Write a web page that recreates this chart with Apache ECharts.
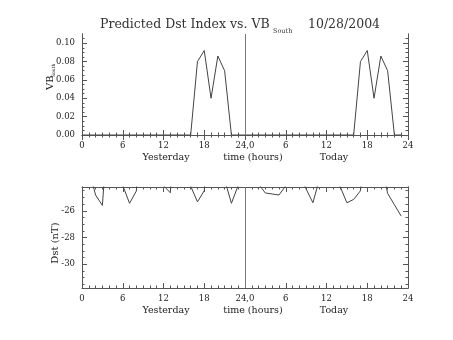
<!DOCTYPE html>
<html><head><meta charset="utf-8">
<script src="https://cdn.jsdelivr.net/npm/echarts@6/dist/echarts.min.js"></script>
<style>html,body{margin:0;padding:0;background:#fff}#c{width:453px;height:340px}</style>
</head><body><div id="c"></div>
<script>
// hours 0..23 = yesterday, 24..47 = today
const hours = [0,1,2,3,4,5,6,7,8,9,10,11,12,13,14,15,16,17,18,19,20,21,22,23,
  24,25,26,27,28,29,30,31,32,33,34,35,36,37,38,39,40,41,42,43,44,45,46,47];
const vbSouth = [0,0,0,0,0,0,0,0,0,0,0,0,0,0,0,0,0,0.080,0.092,0.040,0.086,0.070,0,0,
  0,0,0,0,0,0,0,0,0,0,0,0,0,0,0,0,0,0.080,0.092,0.040,0.086,0.070,0,0];
const dst = [-22,-22.9,-24.82,-25.6,-18.6,-20,-24.1,-25.44,-24.52,-18,-20,-22,-24.12,-24.65,-18,-20,
  -24.15,-25.33,-24.5,-18,-21,-23.67,-25.44,-24.1,
  -22,-22,-24.0,-24.67,-24.74,-24.82,-24.13,-22,-23.3,-24.37,-25.4,-23.55,-22,-22,-24.18,-25.4,
  -25.15,-24.5,-19,-21,-22.2,-24.7,-25.55,-26.4];
const vbTicks = [0,0.02,0.04,0.06,0.08,0.10];
const vbMinor = [0.005,0.01,0.015,0.025,0.03,0.035,0.045,0.05,0.055,0.065,0.07,0.075,0.085,0.09,0.095,0.105];
const dstTicks = [-30,-28,-26];
const dstMinor = [-31.5,-31,-30.5,-29.5,-29,-28.5,-27.5,-27,-26.5,-25.5,-25,-24.5];
const xLabels = {0:'0',6:'6',12:'12',18:'18',24:'24,0',30:'6',36:'12',42:'18',48:'24'};
const title = 'Predicted Dst Index vs. VB';
const titleSub = 'South';
const dateText = '10/28/2004';
const xSubLabels = ['Yesterday','time (hours)','Today'];

const vbYMin = 0, vbYMax = 0.11, dstYMin = -31.78, dstYMax = -24.22;
const FONT = 'DejaVu Serif';
const AX = '#555';
const LINE = '#444';
const TXT = '#222';

function xAxes(g){
  const base = {gridIndex:g, type:'value', min:0, max:48, interval:6,
    axisLine:{show:true, lineStyle:{color:AX, width:1}},
    axisTick:{show:true, inside:true, length:5, lineStyle:{color:AX}},
    minorTick:{show:true, splitNumber:6, length:2.5, lineStyle:{color:AX}},
    splitLine:{show:false}, minorSplitLine:{show:false}};
  return [
    Object.assign({}, base, {position:'bottom',
      axisLabel:{show:true, margin:6, color:TXT, fontFamily:FONT, fontSize:8.5,
        formatter: v => (xLabels[v] !== undefined ? xLabels[v] : '')}}),
    Object.assign({}, base, {position:'top', axisLabel:{show:false}})
  ];
}
function yAxes(g, mn, mx, majors, minors, fmt){
  const base = {gridIndex:g, type:'value', min:mn, max:mx, splitLine:{show:false},
    axisLine:{show:true, lineStyle:{color:AX}}};
  const out = [];
  ['left','right'].forEach(pos => {
    out.push(Object.assign({}, base, {position:pos,
      axisTick:{show:true, inside:true, length:5, customValues:majors, lineStyle:{color:AX}},
      axisLabel:{show:pos==='left', customValues:majors, margin:7, color:TXT, fontFamily:FONT, fontSize:8.5, formatter:fmt}}));
    out.push(Object.assign({}, base, {position:pos,
      axisTick:{show:true, inside:true, length:2.5, customValues:minors, lineStyle:{color:AX}},
      axisLabel:{show:false, customValues:minors}}));
  });
  return out;
}

const chart = echarts.init(document.getElementById('c'), null, {renderer:'canvas'});
const xs = xAxes(0).concat(xAxes(1));
const ys = yAxes(0, vbYMin, vbYMax, vbTicks, vbMinor, v => v.toFixed(2))
  .concat(yAxes(1, dstYMin, dstYMax, dstTicks, dstMinor, v => v.toFixed(0)));

function mkLine(){
  return {silent:true, symbol:'none', label:{show:false},
    lineStyle:{color:'#777', type:'solid', width:1}, data:[{xAxis:24}]};
}
function subLabel(x, y, t){
  return {type:'text', x:x, y:y, style:{text:t, fontFamily:FONT, fontSize:9.5, fill:TXT, align:'center', verticalAlign:'middle'}};
}

chart.setOption({
  animation:false,
  backgroundColor:'#fff',
  grid:[{left:82, top:34, width:326, height:101},{left:82, top:187, width:326, height:101}],
  xAxis: xs,
  yAxis: ys,
  series:[
    {type:'line', xAxisIndex:0, yAxisIndex:0, data:hours.map((h,i)=>[h,vbSouth[i]]),
      showSymbol:false, clip:true, lineStyle:{color:LINE, width:1}, markLine:mkLine()},
    {type:'line', xAxisIndex:2, yAxisIndex:4, data:hours.map((h,i)=>[h,dst[i]]),
      showSymbol:false, clip:true, lineStyle:{color:LINE, width:1}, markLine:mkLine()}
  ],
  graphic:[
    {type:'text', x:100, y:24.5, style:{text:title, fontFamily:FONT, fontSize:12.5, fill:'#333', align:'left', verticalAlign:'middle'}},
    {type:'text', x:273, y:31.5, style:{text:titleSub, fontFamily:FONT, fontSize:6.5, fill:'#333', align:'left', verticalAlign:'middle'}},
    {type:'text', x:308, y:24.5, style:{text:dateText, fontFamily:FONT, fontSize:12.5, fill:'#333', align:'left', verticalAlign:'middle'}},
    {type:'group', x:50.5, y:90, rotation:Math.PI/2, children:[
      {type:'text', x:0, y:0, style:{text:'VB', fontFamily:FONT, fontSize:10, fill:TXT, align:'left', verticalAlign:'middle'}},
      {type:'text', x:13, y:3, style:{text:'South', fontFamily:FONT, fontSize:4.5, fill:TXT, align:'left', verticalAlign:'middle'}}
    ]},
    {type:'text', x:55, y:243, rotation:Math.PI/2, style:{text:'Dst (nT)', fontFamily:FONT, fontSize:10, fill:TXT, align:'center', verticalAlign:'middle'}},
    subLabel(166, 158, xSubLabels[0]),
    subLabel(253, 158, xSubLabels[1]),
    subLabel(334, 158, xSubLabels[2]),
    subLabel(166, 311, xSubLabels[0]),
    subLabel(253, 311, xSubLabels[1]),
    subLabel(334, 311, xSubLabels[2])
  ]
});
</script>
</body></html>
